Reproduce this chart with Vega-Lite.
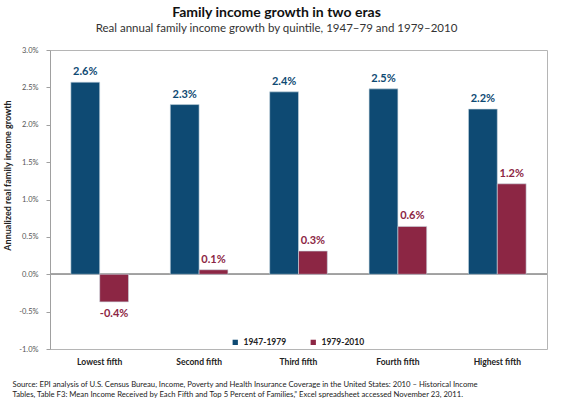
{
  "$schema": "https://vega.github.io/schema/vega-lite/v6.json",
  "width": 497,
  "height": 299,
  "autosize": {"type": "none"},
  "padding": {"left": 50, "top": 50, "right": 23, "bottom": 63},
  "background": "white",
  "config": {
    "font": "Lato",
    "view": {"stroke": "#b5b5b5", "strokeWidth": 1},
    "locale": {"number": {"decimal": ".", "thousands": ",", "grouping": [3], "currency": ["$", ""], "minus": "-"}}
  },
  "title": {
    "text": "Family income growth in two eras",
    "subtitle": "Real annual family income growth by quintile, 1947–79 and 1979–2010",
    "font": "Lato",
    "fontSize": 14,
    "fontWeight": "bold",
    "color": "#111",
    "subtitleFont": "Lato",
    "subtitleFontSize": 11.5,
    "subtitleColor": "#333",
    "subtitlePadding": 3,
    "anchor": "middle",
    "dx": -22,
    "offset": 12
  },
  "data": {
    "values": [
      {"quintile": "Lowest fifth", "period": "1947-1979", "growth": 0.0257},
      {"quintile": "Lowest fifth", "period": "1979-2010", "growth": -0.0037},
      {"quintile": "Second fifth", "period": "1947-1979", "growth": 0.0227},
      {"quintile": "Second fifth", "period": "1979-2010", "growth": 0.0006},
      {"quintile": "Third fifth", "period": "1947-1979", "growth": 0.0244},
      {"quintile": "Third fifth", "period": "1979-2010", "growth": 0.0031},
      {"quintile": "Fourth fifth", "period": "1947-1979", "growth": 0.0248},
      {"quintile": "Fourth fifth", "period": "1979-2010", "growth": 0.0064},
      {"quintile": "Highest fifth", "period": "1947-1979", "growth": 0.0221},
      {"quintile": "Highest fifth", "period": "1979-2010", "growth": 0.0121}
    ]
  },
  "layer": [
    {
      "mark": {"type": "rule", "color": "#a0a0a0", "strokeWidth": 1},
      "encoding": {"y": {"datum": 0, "type": "quantitative"}}
    },
    {
      "mark": {"type": "bar", "stroke": "#c9d6e0", "strokeWidth": 0.6},
      "encoding": {
        "x": {
          "field": "quintile",
          "type": "nominal",
          "sort": ["Lowest fifth", "Second fifth", "Third fifth", "Fourth fifth", "Highest fifth"],
          "scale": {"paddingInner": 0.42, "paddingOuter": 0.21},
          "axis": {
            "labelAngle": 0,
            "labelFont": "Lato",
            "labelFontSize": 8.5,
            "labelFontWeight": "bold",
            "labelColor": "#222",
            "labelPadding": 8,
            "domain": false,
            "ticks": false,
            "title": [
              "Source: EPI analysis of U.S. Census Bureau, Income, Poverty and Health Insurance Coverage in the United States: 2010  – Historical Income",
              "Tables,  Table F3: Mean Income Received by Each Fifth and Top 5 Percent of Families,” Excel spreadsheet  accessed November 23, 2011."
            ],
            "titleFont": "Lato",
            "titleFontSize": 7.7,
            "titleFontWeight": "normal",
            "titleColor": "#222",
            "titleAnchor": "start",
            "titleAlign": "left",
            "titleBaseline": "top",
            "titleX": -38,
            "titleY": 31,
            "titleLineHeight": 10.5
          }
        },
        "xOffset": {"field": "period", "type": "nominal", "sort": ["1947-1979", "1979-2010"]},
        "y": {
          "field": "growth",
          "type": "quantitative",
          "scale": {"domain": [-0.01, 0.03], "nice": false},
          "axis": {
            "format": ".1%",
            "tickCount": 8,
            "labelOverlap": false,
            "grid": false,
            "labelFont": "Lato",
            "labelFontSize": 7.5,
            "labelColor": "#555",
            "labelPadding": 8,
            "tickSize": 4,
            "tickColor": "#a0a0a0",
            "domainColor": "#a0a0a0",
            "title": "Annualized real family income growth",
            "titleFont": "Lato",
            "titleFontSize": 9,
            "titleFontWeight": "bold",
            "titleColor": "#222",
            "titlePadding": 6,
            "titleY": 125
          }
        },
        "color": {
          "field": "period",
          "type": "nominal",
          "scale": {"domain": ["1947-1979", "1979-2010"], "range": ["#0e4a73", "#8c2644"]},
          "legend": {
            "title": null,
            "orient": "none",
            "direction": "horizontal",
            "legendX": 181,
            "legendY": 288,
            "symbolType": "square",
            "symbolSize": 28,
            "symbolStrokeWidth": 0,
            "labelFont": "Lato",
            "labelFontSize": 8.5,
            "labelFontWeight": "bold",
            "labelColor": "#222",
            "columnPadding": 22
          }
        }
      }
    },
    {
      "transform": [{"filter": "datum.growth >= 0"}],
      "mark": {"type": "text", "baseline": "bottom", "dy": -5, "font": "Lato", "fontSize": 11, "fontWeight": "bold"},
      "encoding": {
        "x": {"field": "quintile", "type": "nominal", "sort": ["Lowest fifth", "Second fifth", "Third fifth", "Fourth fifth", "Highest fifth"]},
        "xOffset": {"field": "period", "type": "nominal", "sort": ["1947-1979", "1979-2010"]},
        "y": {"field": "growth", "type": "quantitative"},
        "text": {"field": "growth", "type": "quantitative", "format": ".1%"},
        "color": {"field": "period", "type": "nominal", "scale": {"domain": ["1947-1979", "1979-2010"], "range": ["#0e4a73", "#8c2644"]}, "legend": null}
      }
    },
    {
      "transform": [{"filter": "datum.growth < 0"}],
      "mark": {"type": "text", "baseline": "top", "dy": 6, "font": "Lato", "fontSize": 11, "fontWeight": "bold"},
      "encoding": {
        "x": {"field": "quintile", "type": "nominal", "sort": ["Lowest fifth", "Second fifth", "Third fifth", "Fourth fifth", "Highest fifth"]},
        "xOffset": {"field": "period", "type": "nominal", "sort": ["1947-1979", "1979-2010"]},
        "y": {"field": "growth", "type": "quantitative"},
        "text": {"field": "growth", "type": "quantitative", "format": ".1%"},
        "color": {"field": "period", "type": "nominal", "scale": {"domain": ["1947-1979", "1979-2010"], "range": ["#0e4a73", "#8c2644"]}, "legend": null}
      }
    }
  ]
}
